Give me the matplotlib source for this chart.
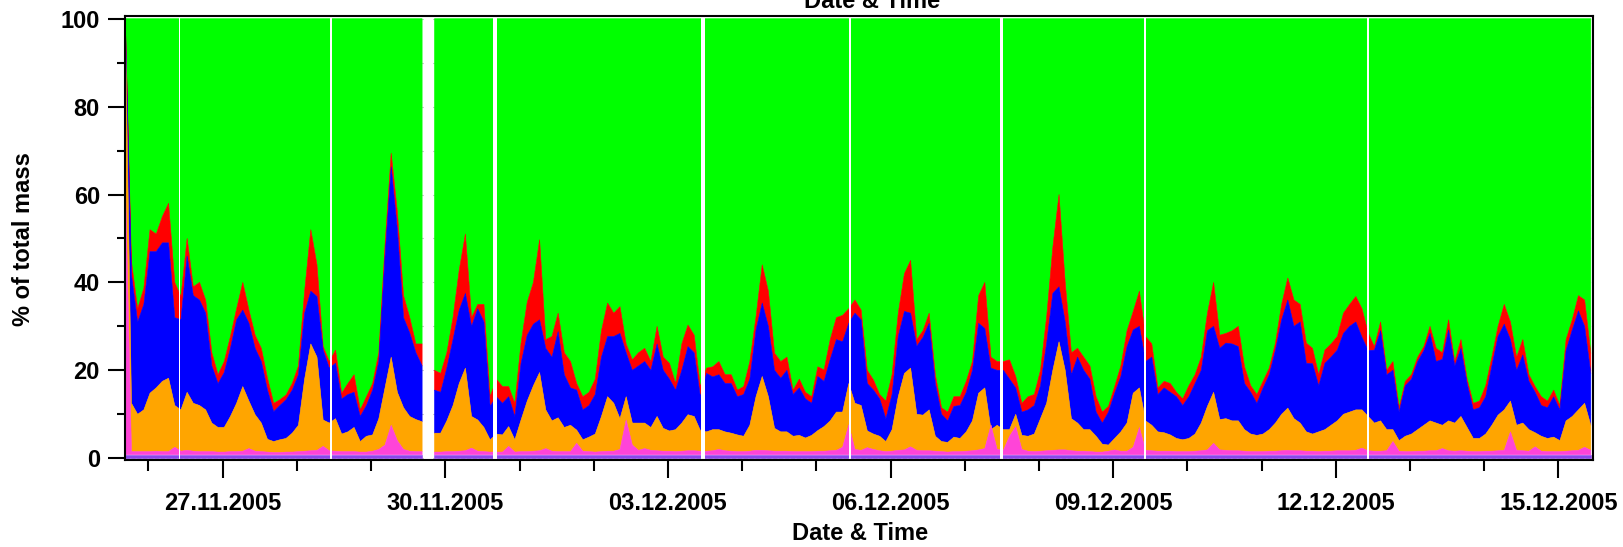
import matplotlib
matplotlib.use('Agg')
import matplotlib.pyplot as plt
import matplotlib.dates as mdates
import numpy as np
from datetime import datetime, timedelta
from matplotlib.ticker import FixedLocator, MultipleLocator

plt.rcParams['font.family'] = ['Liberation Sans', 'DejaVu Sans']
plt.rcParams['font.weight'] = 'bold'

nan = np.nan

# samples every 2 hours, starting 25.11.2005 16:30
start_time = datetime(2005, 11, 25, 16, 30)
step_hours = 2

# cumulative tops (% of total mass)
red_top = [
    100, 44.7, 34, 38.7, 52, 51, 55, 58, 40, 36.8, 50, 39, 40, 36, 24, 19, 22, 27.7, 34, 40,
    33.7, 28, 25, 18.2, 12.5, 13.3, 14.4, 17, 21, 38, 52, 44, 25.4, 22, 24.6, 14.8, 17, 19, 11, 14,
    17, 24, 48.5, 69.4, 56, 37, 32, 26, 26, nan, 20, 19.3, 24, 32, 42.8, 51, 32, 35, 35, 14,
    18, 16.3, 16.3, 12.5, 26.2, 35.5, 40, 49.7, 27, 27.7, 33, 24, 22, 17, 14, 15, 18, 29, 35.3, 33,
    34.5, 26, 22.4, 24, 25, 22, 30, 23, 21.6, 17, 26, 30.3, 28, 16.3, 20.5, 20.8, 22, 19, 19, 15.5,
    16.3, 22, 32.2, 44, 38, 23.9, 22, 23, 15.5, 18, 15, 14, 20.8, 20.1, 27, 32, 32.5, 34, 36, 33.7,
    20, 17.8, 14.5, 13, 19, 33, 42, 45, 27, 29, 33, 19, 11.5, 10.5, 14, 14, 17.5, 22, 37, 40,
    23, 22, 22, 22.4, 18.6, 12.5, 14, 14.5, 20, 32.2, 48, 60, 40, 24, 25, 23, 21, 14, 10.5,
    11.8, 16.3, 21, 29, 33.4, 38, 27.7, 26, 16, 17.5, 17, 15, 13.5, 16.5, 19, 23, 33, 40, 28, 28.4,
    29, 30, 20.8, 16.5, 14.5, 17.5, 20.5, 26.2, 35, 41, 36, 35, 26.2, 25, 19, 24.6, 26, 27.7, 33, 35,
    36.8, 34, 28.5, 25.4, 31, 20, 22, 11.5, 17.5, 19, 23, 25.4, 30, 25, 24, 31.5, 22, 27, 18, 12.5,
    13, 16.5, 23, 30, 35, 31, 23, 27, 19, 16.3, 14, 13, 15.5, 12, 27, 31.5, 37, 36, 23.9,
]
blue_top = [
    100, 41.7, 31, 35, 47, 47, 49, 49, 32, 31.5, 46, 37, 36, 33, 21, 17, 19.5, 25, 31.5, 33.7,
    30.7, 25, 22, 15.5, 10.6, 12, 13.3, 15.5, 19, 33, 38, 36.8, 24.6, 20.5, 21.6, 13.5, 14.5, 15, 9.5, 12,
    15.5, 22, 45.9, 66.3, 52, 32, 28.5, 24, 21, nan, 15.5, 15, 20.5, 27, 33.7, 37.5, 30, 34, 31, 11.8,
    14, 12.5, 14, 9.5, 21.6, 28, 30.5, 31.5, 25, 23, 28.8, 19, 16, 15.5, 11, 12, 14.5, 23, 27.7, 27.7,
    28.4, 24, 20, 21, 22, 20, 26, 20, 18, 15.5, 20, 25.4, 24, 14, 19.3, 18.5, 19, 17, 17, 14,
    14.5, 18, 29.2, 35.3, 30, 20, 18.2, 20, 14.5, 16, 13.5, 12.5, 18.6, 17.5, 22.5, 27, 26.5, 30.7, 33, 31.5,
    17, 15.5, 13.5, 9, 14.5, 27.7, 33.4, 33, 25.5, 27.5, 30.7, 17, 10, 8.5, 11.8, 12, 15, 20, 30.7, 29.5,
    20.5, 20, 20, 18, 16, 10.5, 11, 12, 16.5, 26.2, 37.5, 39, 31, 19, 23, 20, 18, 10.5, 8,
    10.5, 14.8, 18.6, 25.4, 29.2, 30, 22, 23, 14.5, 16, 15, 14, 12, 14, 17, 20, 29, 30, 25, 26.2,
    26, 25.4, 17, 15, 12.5, 16, 19, 24.6, 31.5, 36, 30, 31, 21.6, 21.5, 16.5, 21.6, 23, 24.6, 28.4, 30,
    31, 27.5, 24.5, 24.6, 29, 19, 20, 10.5, 16.5, 18, 22, 24.5, 28.4, 22, 22.5, 29.2, 21, 25, 17, 11,
    11.5, 14, 21, 27.7, 30.5, 27, 20, 23.5, 17.5, 15, 12, 11.5, 14, 11, 24.5, 29.2, 33.5, 30, 19.3,
]
orange_top = [
    100, 12.5, 10, 11, 14.8, 16, 17.5, 18.2, 12, 11, 15, 12.5, 12, 11, 8, 7, 7, 9.5, 12.5, 16.3,
    13, 9.9, 8, 4.3, 3.8, 4.2, 4.5, 5.7, 7.5, 18, 26, 23, 8.7, 8, 9, 5.5, 6, 7, 3.8, 5,
    5.3, 9, 16, 23, 15, 11.5, 9.5, 8.8, 8.3, nan, 5.7, 5.7, 8.5, 12, 17, 20.5, 9.5, 8.7, 7, 4.2,
    5.5, 5.3, 7.2, 4.2, 8.7, 13, 16.5, 19.5, 11, 8.5, 9.2, 7, 7.5, 6.4, 4.2, 4.8, 5.5, 9.5, 14, 12.5,
    9, 14, 8, 8, 8, 7, 9.5, 6.8, 6.2, 6.5, 8, 9.9, 9.5, 6.3, 6, 6.5, 6.5, 6, 5.7, 5.3,
    5, 7.5, 14, 18.6, 14, 6.8, 6, 6, 5, 5.2, 4.6, 5.2, 6.3, 7.2, 8.5, 10.5, 10.5, 17, 12.5, 12,
    6.2, 5.5, 5, 3.8, 6.5, 14, 19.3, 20.5, 10, 9.8, 11, 5, 3.8, 3.6, 4.8, 4.5, 6, 8.5, 14.8, 16,
    6.5, 7.5, 6.5, 6.5, 10, 5.2, 5, 5.5, 9, 12.5, 20, 26.5, 20, 9, 8, 6.5, 6.5, 5, 3.2,
    3, 4.5, 6, 8, 14.8, 16, 8.5, 7.5, 6, 5.8, 5.3, 4.5, 4.2, 4.5, 5.5, 8, 11.8, 15, 8.8, 9,
    8.5, 8.5, 6.5, 5.5, 5.2, 5.5, 6.5, 8, 10, 11.4, 9, 8, 6, 5.5, 6, 6.5, 7.5, 8.5, 10, 10.5,
    11, 11, 9.5, 8, 8.5, 6.5, 6.5, 4, 5, 5.5, 6.5, 7.5, 8.5, 8, 7.5, 8.5, 8, 9.5, 7, 4.5,
    4.5, 5.5, 7.5, 9.8, 11, 13, 7.5, 8, 6.5, 5.8, 5, 4.5, 4.8, 4, 8.5, 9.5, 11, 12.5, 7.5,
]
magenta_top = [
    64, 1.5, 1.5, 1.5, 1.5, 1.6, 1.5, 1.5, 2.5, 1.6, 1.8, 1.6, 1.5, 1.5, 1.5, 1.4, 1.4, 1.5, 1.5, 1.6,
    2.2, 1.6, 1.5, 1.4, 1.3, 1.3, 1.4, 1.4, 1.5, 1.6, 1.7, 1.8, 2.7, 1.7, 1.6, 1.5, 1.5, 1.5, 1.4, 1.4,
    1.6, 2, 3, 7.5, 4, 2, 1.6, 1.5, 1.5, nan, 1.4, 1.4, 1.5, 1.5, 1.6, 1.7, 2.3, 1.6, 1.5, 1.4,
    1.4, 1.4, 2.7, 1.4, 1.5, 1.5, 1.6, 1.7, 2.2, 1.6, 1.5, 1.5, 1.5, 3.4, 1.6, 1.5, 1.4, 1.5, 1.6, 1.6,
    2, 8.7, 3, 1.8, 2.2, 1.8, 1.7, 1.6, 1.6, 1.5, 1.6, 1.7, 1.7, 1.6, 1.6, 1.7, 2, 1.7, 1.6, 1.5,
    1.5, 1.6, 1.8, 1.8, 1.7, 1.6, 1.6, 1.6, 1.5, 1.5, 1.5, 1.5, 1.6, 1.6, 1.7, 1.8, 2.5, 7.6, 2, 1.8,
    2.4, 2, 1.7, 1.5, 1.6, 1.8, 1.9, 2.6, 1.8, 1.7, 1.7, 1.6, 1.5, 1.4, 1.5, 1.5, 1.6, 1.7, 1.9, 2.2,
    7.5, 2, 1.8, 5, 7.2, 2, 1.6, 1.5, 1.6, 1.7, 1.8, 1.9, 1.9, 1.7, 1.6, 1.6, 1.5, 1.4, 1.4,
    1.6, 1.9, 1.6, 1.6, 2.5, 7, 1.8, 1.7, 1.6, 1.6, 1.6, 1.5, 1.5, 1.5, 1.6, 1.7, 1.9, 3.4, 1.9, 1.8,
    1.7, 1.7, 1.6, 1.5, 1.5, 1.5, 1.6, 1.6, 1.7, 1.8, 1.7, 1.7, 1.6, 1.6, 1.5, 1.6, 1.6, 1.7, 1.7, 1.7,
    1.8, 2.3, 1.7, 1.6, 1.6, 1.7, 3.8, 1.6, 1.5, 1.5, 1.6, 1.6, 1.7, 1.7, 2.2, 1.7, 1.6, 1.7, 1.6, 1.5,
    1.5, 1.6, 1.6, 1.7, 1.8, 6, 1.8, 1.7, 1.6, 2.6, 1.6, 1.5, 1.5, 1.5, 1.6, 1.7, 1.8, 2.5, 1.8,
]
purple_level = 0.8

# periods without data (white stripes)
gaps = [
    ('2005-11-26 09:48', '2005-11-26 10:18'),
    ('2005-11-28 10:42', '2005-11-28 11:18'),
    ('2005-11-29 17:12', '2005-11-29 20:06'),
    ('2005-11-30 15:30', '2005-11-30 16:36'),
    ('2005-12-03 10:36', '2005-12-03 12:00'),
    ('2005-12-05 10:42', '2005-12-05 11:12'),
    ('2005-12-07 11:24', '2005-12-07 12:30'),
    ('2005-12-09 10:06', '2005-12-09 10:36'),
    ('2005-12-12 10:00', '2005-12-12 10:48'),
]

major_dates = ['2005-11-27', '2005-11-30', '2005-12-03', '2005-12-06',
               '2005-12-09', '2005-12-12', '2005-12-15']

green = '#00ff00'
red = '#ff0000'
blue = '#0000ff'
orange = '#ffa500'
magenta = '#ff44d8'
purple = '#8c46ec'

n = len(red_top)
times = [start_time + timedelta(hours=step_hours * k) for k in range(n)]
t = mdates.date2num(times)
red_top = np.array(red_top)
blue_top = np.array(blue_top)
orange_top = np.array(orange_top)
magenta_top = np.array(magenta_top)

fig = plt.figure(figsize=(16.24, 5.47), dpi=100)
ax = fig.add_axes([0.07697, 0.15905, 0.90394, 0.81225])

ax.set_axisbelow(True)
ax.grid(axis='y', which='both', linestyle='--', color='#cccccc', linewidth=0.8)

layers = [
    (red_top, 100, green),
    (blue_top, red_top, red),
    (orange_top, blue_top, blue),
    (magenta_top, orange_top, orange),
    (purple_level, magenta_top, magenta),
    (0, purple_level, purple),
]
for lower, upper, col in layers:
    ax.fill_between(t, lower, upper, where=~np.isnan(red_top), facecolor=col,
                    edgecolor=col, linewidth=0.4, zorder=2)

for g0, g1 in gaps:
    ax.axvspan(mdates.datestr2num(g0), mdates.datestr2num(g1),
               color='white', linewidth=0, zorder=3)

ax.set_xlim(mdates.datestr2num('2005-11-25 16:24'), mdates.datestr2num('2005-12-15 11:12'))
ax.set_ylim(-0.4, 100.68)

ax.xaxis.set_major_locator(FixedLocator(mdates.datestr2num(major_dates)))
ax.xaxis.set_major_formatter(mdates.DateFormatter('%d.%m.%Y'))
ax.xaxis.set_minor_locator(mdates.DayLocator())
ax.yaxis.set_major_locator(MultipleLocator(20))
ax.yaxis.set_minor_locator(MultipleLocator(10))

ax.tick_params(axis='x', which='major', length=13, width=1.5, pad=10, labelsize=17)
ax.tick_params(axis='x', which='minor', length=8, width=1.5)
ax.tick_params(axis='y', which='major', length=12, width=1.5, pad=6, labelsize=17)
ax.tick_params(axis='y', which='minor', length=6, width=1.5)
for lab in ax.get_xticklabels() + ax.get_yticklabels():
    lab.set_fontweight('bold')

for side in ['top', 'bottom', 'left', 'right']:
    ax.spines[side].set_linewidth(1.5)
    ax.spines[side].set_zorder(5)

fig.text(24 / 1624, 1 - 239 / 547, '% of total mass', rotation=90,
         ha='center', va='center', fontsize=17, fontweight='bold')
fig.text(860 / 1624, 1 - 534 / 547, 'Date & Time', ha='center', va='center',
         fontsize=17, fontweight='bold')
fig.text(872 / 1624, 1 - 8.5 / 547, 'Date & Time', ha='center', va='baseline',
         fontsize=17, fontweight='bold')

fig.savefig('out.png', dpi=100)
